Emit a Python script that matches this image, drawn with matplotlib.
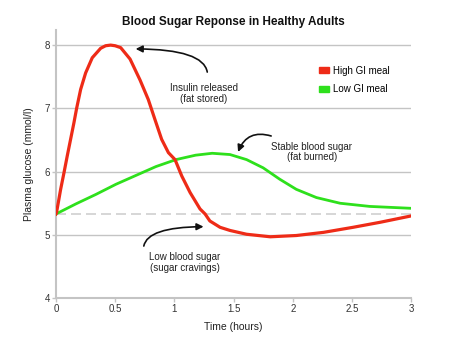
import matplotlib.pyplot as plt
from matplotlib.patches import Patch

plt.rcParams['font.family'] = ['Liberation Sans', 'DejaVu Sans']

# values
time_high = [0, 0.006, 0.04, 0.068, 0.096, 0.124, 0.152, 0.175, 0.209,
             0.251, 0.307, 0.378, 0.42, 0.462, 0.50, 0.547, 0.626, 0.71,
             0.78, 0.837, 0.893, 0.95, 1.006, 1.063, 1.133, 1.217, 1.26,
             1.30, 1.386, 1.47, 1.61, 1.81, 2.03, 2.26, 2.51, 2.74, 3.0]
glucose_high = [5.33, 5.36, 5.72, 5.98, 6.25, 6.51, 6.77, 7.0, 7.30,
                7.56, 7.80, 7.95, 7.99, 8.0, 7.99, 7.96, 7.78, 7.45,
                7.14, 6.82, 6.51, 6.30, 6.19, 5.93, 5.67, 5.41, 5.33,
                5.22, 5.12, 5.07, 5.01, 4.97, 4.99, 5.04, 5.12, 5.20, 5.30]
time_low = [0, 0.169, 0.338, 0.507, 0.676, 0.845, 1.014, 1.18, 1.32, 1.47,
            1.61, 1.75, 1.89, 2.03, 2.20, 2.40, 2.65, 3.0]
glucose_low = [5.33, 5.49, 5.64, 5.80, 5.94, 6.08, 6.19, 6.26, 6.29, 6.27,
               6.19, 6.06, 5.88, 5.72, 5.59, 5.50, 5.45, 5.42]
baseline = 5.33
x_ticks = [0, 0.5, 1, 1.5, 2, 2.5, 3]
x_tick_labels = ['0', '0.5', '1', '1.5', '2', '2.5', '3']
y_ticks = [4, 5, 6, 7, 8]

red = '#ee2b17'
green = '#2ee01c'
grey = '#c4c4c4'

fig = plt.figure(figsize=(4.62, 3.52), dpi=100)
ax = fig.add_axes([0.121, 0.153, 0.769, 0.762])

for y in y_ticks[1:]:
    ax.axhline(y, color=grey, lw=1.0, zorder=1)
ax.axhline(baseline, color='#d0d0d0', lw=1.2, ls=(0, (6, 3)), zorder=1)

ax.plot(time_low, glucose_low, color=green, lw=2.0, zorder=3,
        solid_joinstyle='round')
ax.plot(time_high, glucose_high, color=red, lw=2.3, zorder=4,
        solid_joinstyle='round')

ax.set_xlim(0, 3)
ax.set_ylim(4, 8.24)
ax.set_xticks(x_ticks)
ax.set_xticklabels(x_tick_labels)
ax.set_yticks(y_ticks)
ax.tick_params(axis='both', labelsize=7, colors='#333333', length=3,
               width=1, pad=1)
ax.tick_params(axis='both', color=grey)

for side in ['top', 'right']:
    ax.spines[side].set_visible(False)
for side in ['left', 'bottom']:
    ax.spines[side].set_color(grey)
    ax.spines[side].set_linewidth(1.5)

ax.set_xlabel('Time (hours)', fontsize=7.5, color='#222222', labelpad=6)
ax.set_ylabel('Plasma glucose (mmol/l)', fontsize=7.5, color='#222222',
              labelpad=8)
fig.text(0.506, 0.93, 'Blood Sugar Reponse in Healthy Adults', ha='center',
         fontsize=8.5, fontweight='bold', color='#111111')

arrow = dict(arrowstyle='-|>', color='#111111', lw=1.2, mutation_scale=10)
ax.annotate('', xy=(0.65, 7.94), xytext=(1.28, 7.53),
            arrowprops=dict(arrow, connectionstyle='angle3,angleA=90,angleB=0'))
ax.text(1.25, 7.24, 'Insulin released\n(fat stored)', ha='center',
        va='center', fontsize=7, color='#222222', linespacing=1.1)

ax.annotate('', xy=(1.53, 6.27), xytext=(1.84, 6.55),
            arrowprops=dict(arrow, connectionstyle='arc3,rad=0.5'))
ax.text(2.16, 6.31, 'Stable blood sugar\n(fat burned)', ha='center',
        va='center', fontsize=7, color='#222222', linespacing=1.1)

ax.annotate('', xy=(1.27, 5.13), xytext=(0.74, 4.78),
            arrowprops=dict(arrow, connectionstyle='angle3,angleA=90,angleB=0'))
ax.text(1.09, 4.56, 'Low blood sugar\n(sugar cravings)', ha='center',
        va='center', fontsize=7, color='#222222', linespacing=1.1)

handles = [Patch(color=red, label='High GI meal'),
           Patch(color=green, label='Low GI meal')]
ax.legend(handles=handles, loc='upper left', bbox_to_anchor=(0.727, 0.885),
          frameon=False, fontsize=7, handlelength=1.0, handleheight=0.5,
          handletextpad=0.4, labelspacing=0.9, borderpad=0)

fig.savefig('out.png', dpi=100, facecolor='white')
